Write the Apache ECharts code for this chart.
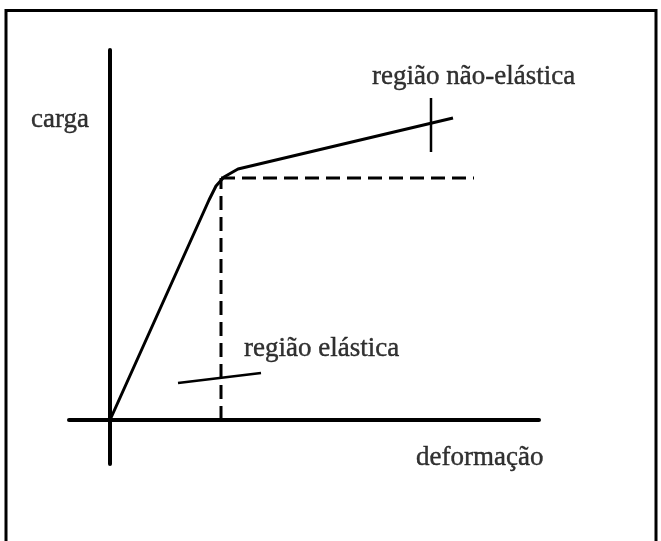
<!DOCTYPE html>
<html>
<head>
<meta charset="utf-8">
<title>carga x deformação</title>
<script src="https://cdn.jsdelivr.net/npm/echarts@6/dist/echarts.min.js"></script>
<style>
    html, body { margin: 0; padding: 0; background: #fff; }
    #main { width: 661px; height: 541px; }
</style>
</head>
<body>
<div id="main"></div>
<script>
// dados (unidades arbitrarias)
var curva = [[0, 0], [9.9, 22], [10.6, 23.4], [11.4, 24.3], [12.8, 25.1], [34.3, 30.2]];
var limiteH = [[11.1, 24.2], [36.4, 24.2]];
var limiteV = [[11.1, 0], [11.1, 24.2]];
var marcaNaoElastica = [[32.1, 32.2], [32.1, 26.8]];
var marcaElastica = [[6.8, 3.7], [15.1, 4.7]];

// textos
var rotulos = [
    {value: [-7.9, 30.0], name: 'carga'},
    {value: [26.2, 34.3], name: 'região não-elástica'},
    {value: [13.4, 7.1], name: 'região elástica'},
    {value: [30.6, -3.8], name: 'deformação'}
];

var myChart = echarts.init(document.getElementById('main'));

var linhaCheia = function (nome, dados, largura) {
    return {
        name: nome,
        type: 'line',
        data: dados,
        symbol: 'none',
        silent: true,
        clip: false,
        lineStyle: { color: '#000', width: largura }
    };
};

var linhaTracejada = function (nome, dados) {
    return {
        name: nome,
        type: 'line',
        data: dados,
        symbol: 'none',
        silent: true,
        clip: false,
        lineStyle: { color: '#000', width: 3, type: [14, 7] }
    };
};

var option = {
    animation: false,
    backgroundColor: '#fff',
    // moldura
    graphic: [{
        type: 'rect',
        shape: { x: 6, y: 10.5, width: 650, height: 570 },
        style: { fill: 'none', stroke: '#000', lineWidth: 3 }
    }],
    grid: {
        left: 69,
        right: 122,
        top: 50,
        bottom: 77
    },
    xAxis: {
        type: 'value',
        min: -4.1,
        max: 42.9,
        axisLine: { show: true, onZero: true, lineStyle: { color: '#000', width: 4 } },
        axisTick: { show: false },
        axisLabel: { show: false },
        splitLine: { show: false }
    },
    yAxis: {
        type: 'value',
        min: -4.4,
        max: 37,
        axisLine: { show: true, onZero: true, lineStyle: { color: '#000', width: 4 } },
        axisTick: { show: false },
        axisLabel: { show: false },
        splitLine: { show: false }
    },
    series: [
        linhaCheia('curva', curva, 3),
        linhaTracejada('limiteH', limiteH),
        linhaTracejada('limiteV', limiteV),
        linhaCheia('marca1', marcaNaoElastica, 2.5),
        linhaCheia('marca2', marcaElastica, 2.5),
        {
            name: 'rotulos',
            type: 'scatter',
            symbolSize: 0,
            clip: false,
            silent: true,
            data: rotulos,
            label: {
                show: true,
                position: [0, 0],
                align: 'left',
                verticalAlign: 'middle',
                formatter: '{b}',
                color: '#000',
                textBorderColor: '#000',
                textBorderWidth: 0.4,
                fontFamily: 'Liberation Serif',
                fontSize: 27
            }
        }
    ]
};

myChart.setOption(option);
</script>
</body>
</html>
